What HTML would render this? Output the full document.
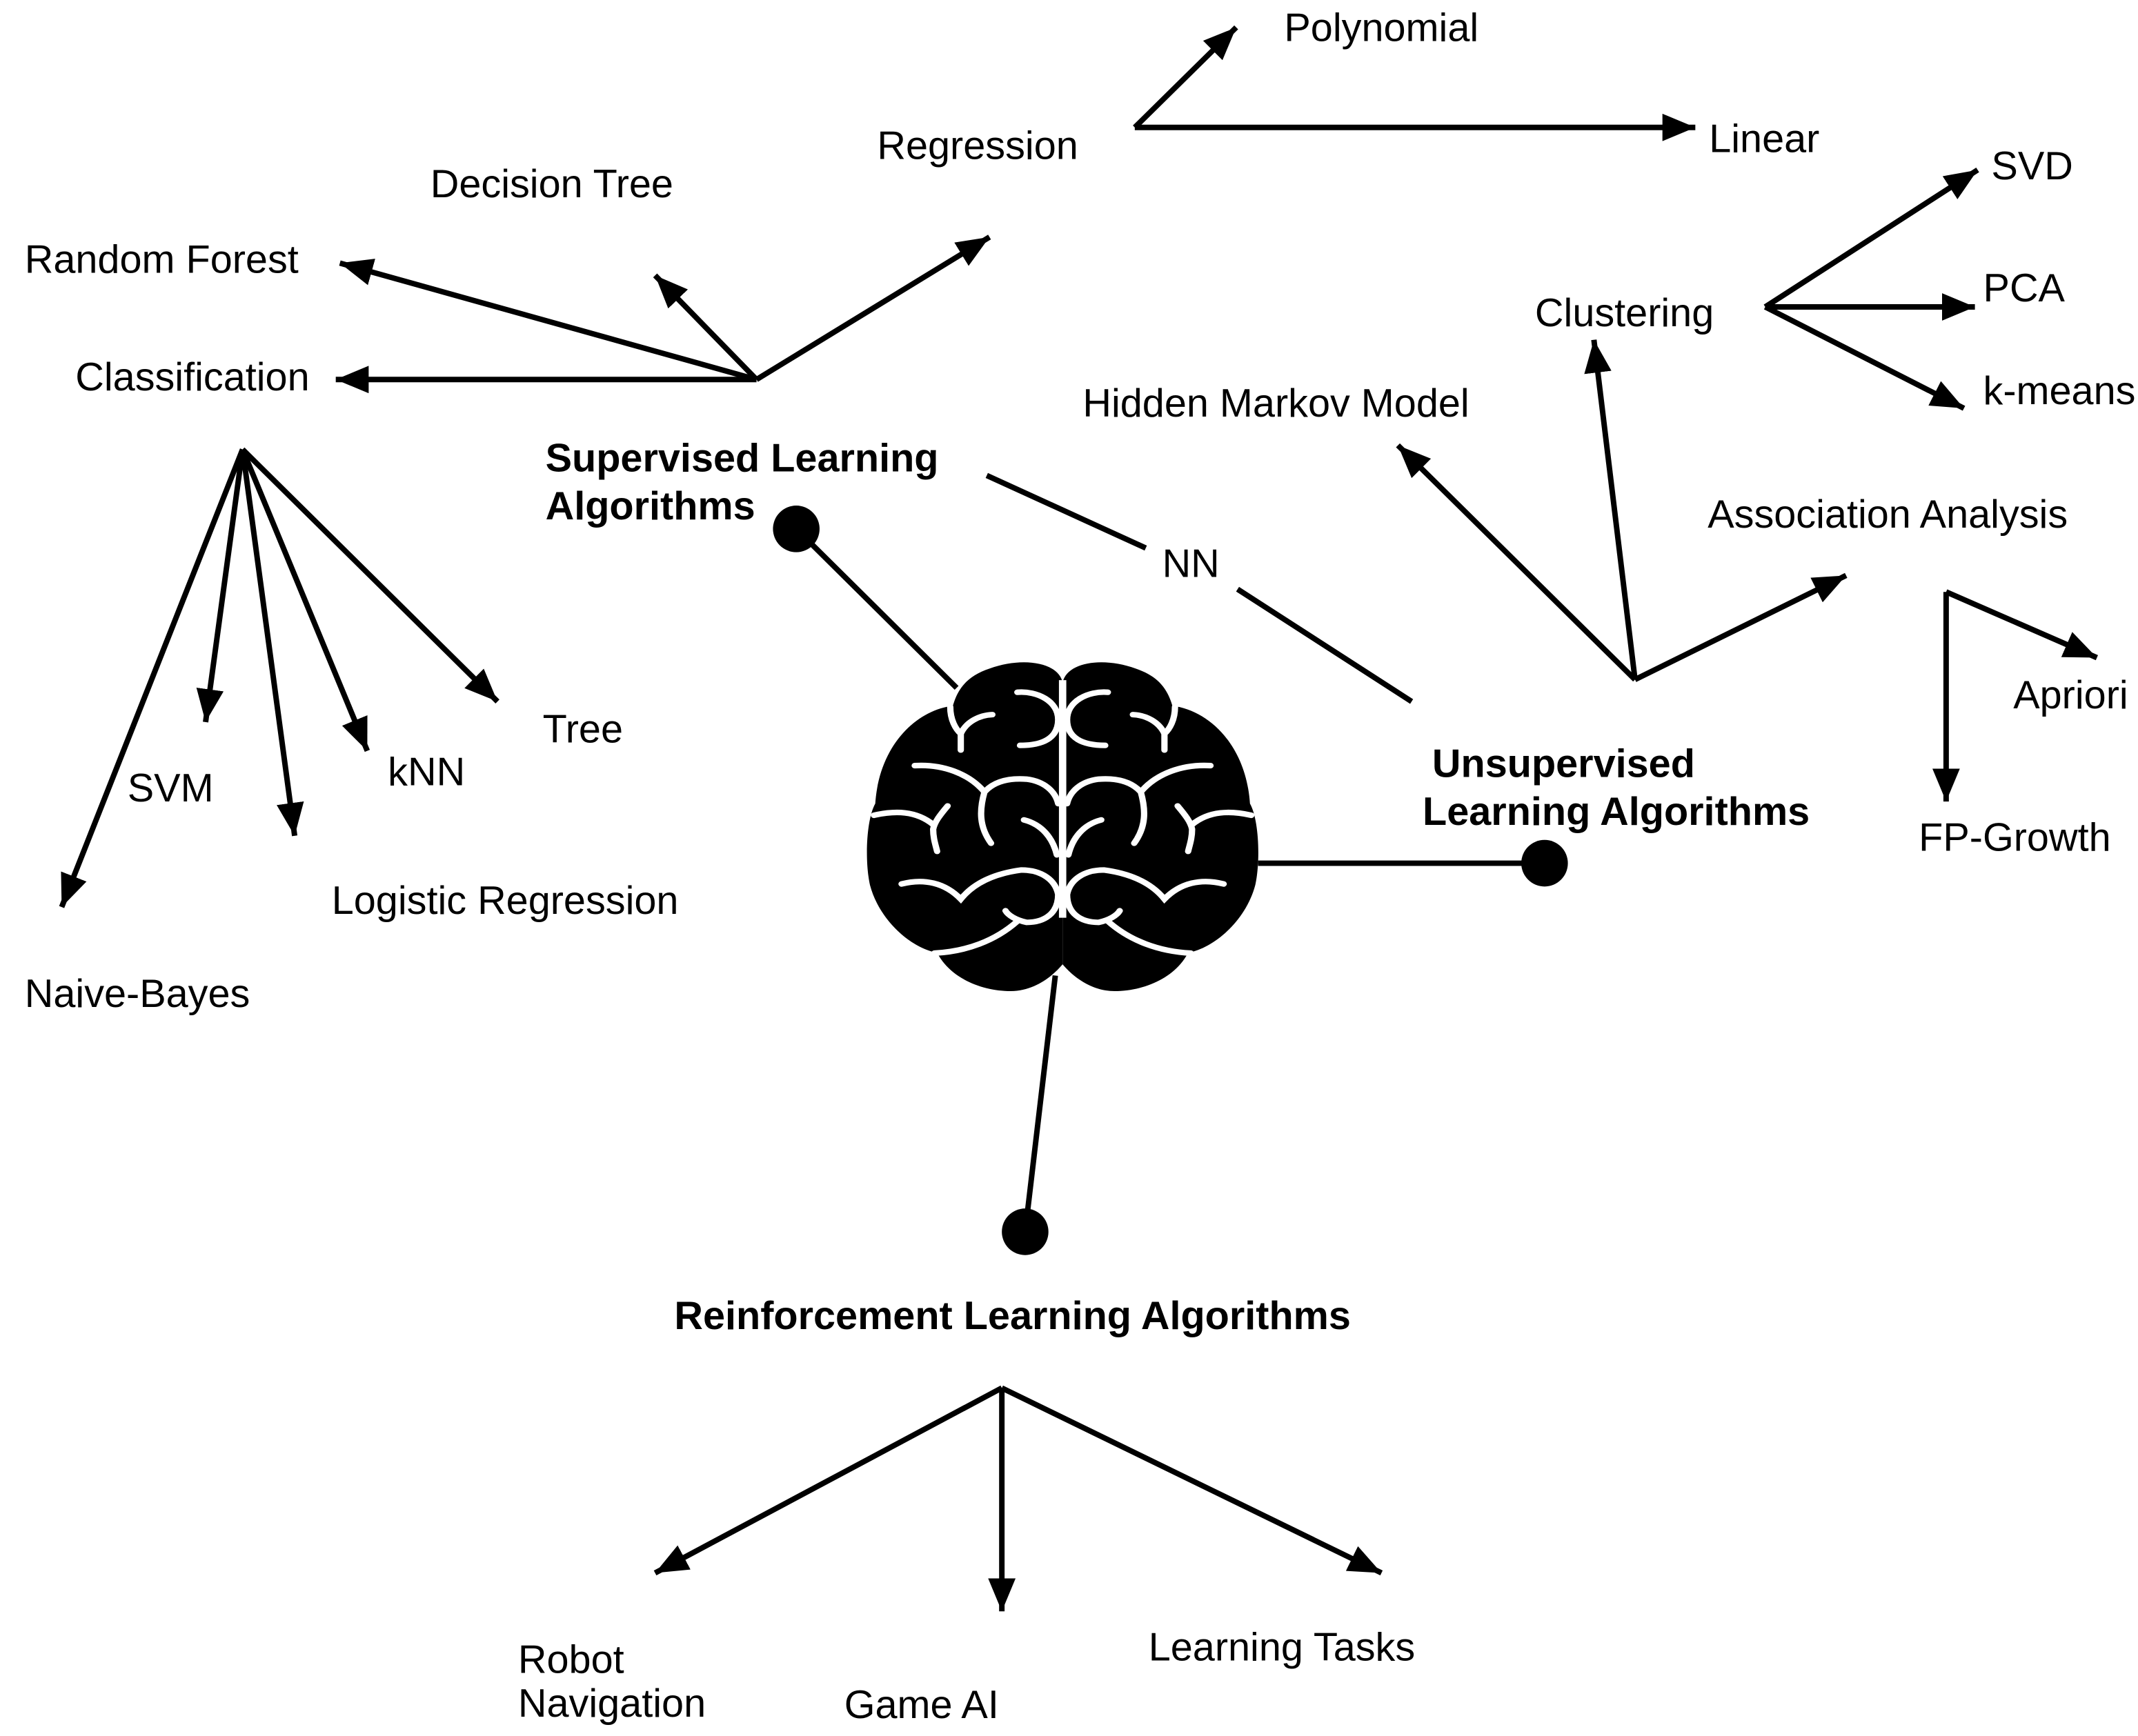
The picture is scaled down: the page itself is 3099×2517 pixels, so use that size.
<!DOCTYPE html>
<html><head><meta charset="utf-8">
<style>
html,body{margin:0;padding:0;background:#fff;}
svg{display:block;}
text{font-family:"Liberation Sans",Arial,sans-serif;font-size:29px;fill:#000;}
.b{font-weight:bold;}
</style></head>
<body>
<svg width="3099" height="2517" viewBox="0 0 1560 1267" preserveAspectRatio="none" xmlns="http://www.w3.org/2000/svg">
<defs>
<marker id="a" markerUnits="userSpaceOnUse" markerWidth="30" markerHeight="24" refX="24" refY="10" orient="auto">
<path d="M0,0 L24,10 L0,20 Z" fill="#000"/>
</marker>
</defs>
<g stroke="#000" stroke-width="4" fill="none">
<line x1="552" y1="277" x2="245" y2="277" marker-end="url(#a)"/>
<line x1="552" y1="277" x2="248" y2="192" marker-end="url(#a)"/>
<line x1="552" y1="277" x2="478" y2="201" marker-end="url(#a)"/>
<line x1="552" y1="277" x2="722" y2="173" marker-end="url(#a)"/>
<line x1="828" y1="93" x2="902" y2="20" marker-end="url(#a)"/>
<line x1="828" y1="93" x2="1237" y2="93" marker-end="url(#a)"/>
<line x1="177" y1="328" x2="45" y2="662" marker-end="url(#a)"/>
<line x1="177" y1="328" x2="150" y2="527" marker-end="url(#a)"/>
<line x1="177" y1="328" x2="215" y2="610" marker-end="url(#a)"/>
<line x1="177" y1="328" x2="268" y2="548" marker-end="url(#a)"/>
<line x1="177" y1="328" x2="363" y2="512" marker-end="url(#a)"/>
<line x1="581" y1="386" x2="698" y2="502"/>
<line x1="720" y1="347" x2="836" y2="400"/>
<line x1="903" y1="430" x2="1030" y2="512"/>
<line x1="918" y1="630" x2="1127" y2="630"/>
<line x1="1193" y1="496" x2="1020" y2="325" marker-end="url(#a)"/>
<line x1="1193" y1="496" x2="1163" y2="248" marker-end="url(#a)"/>
<line x1="1193" y1="496" x2="1347" y2="420" marker-end="url(#a)"/>
<line x1="1288" y1="224" x2="1443" y2="124" marker-end="url(#a)"/>
<line x1="1288" y1="224" x2="1441" y2="224" marker-end="url(#a)"/>
<line x1="1288" y1="224" x2="1433" y2="298" marker-end="url(#a)"/>
<line x1="1420" y1="432" x2="1420" y2="585" marker-end="url(#a)"/>
<line x1="1420" y1="432" x2="1530" y2="480" marker-end="url(#a)"/>
<line x1="770" y1="712" x2="748" y2="899"/>
<line x1="731" y1="1013" x2="478" y2="1148" marker-end="url(#a)"/>
<line x1="731" y1="1013" x2="731" y2="1176" marker-end="url(#a)"/>
<line x1="731" y1="1013" x2="1008" y2="1148" marker-end="url(#a)"/>
</g>
<circle cx="581" cy="386" r="17" fill="#000"/>
<circle cx="1127" cy="630" r="17" fill="#000"/>
<circle cx="748" cy="899" r="17" fill="#000"/>

<g transform="translate(630,476) scale(0.192,0.17)">
<g id="half">
<path d="M757,130 C740,40 600,20 480,70 C400,100 360,150 340,230 C200,250 60,400 45,650 C10,720 5,900 25,1000 C60,1150 180,1270 280,1290 C330,1400 450,1455 560,1455 C650,1455 720,1390 757,1340 Z" fill="#000"/>
<g stroke="#fff" stroke-width="24" fill="none" stroke-linecap="round">
<path d="M330,235 C330,290 350,330 370,350 L370,420 M370,350 C390,300 440,270 490,268"/>
<path d="M585,172 C660,165 740,210 740,290 C740,370 680,400 595,400"/>
<path d="M195,487 C300,480 400,520 460,600 C440,680 440,750 485,820 M460,600 C500,550 560,540 620,545 C690,555 730,600 740,650"/>
<path d="M320,660 C290,700 270,730 265,760 C265,800 275,830 280,855 M265,740 C200,680 120,680 40,700"/>
<path d="M610,720 C680,740 720,800 735,870"/>
<path d="M145,995 C230,970 310,990 370,1060 C420,990 500,950 600,935 C680,935 730,980 740,1040 C740,1120 690,1160 620,1160 C580,1150 550,1130 540,1110 M585,1155 C500,1240 390,1285 270,1292"/>
</g>
</g>
<use href="#half" transform="translate(1514,0) scale(-1,1)"/>
<line x1="757" y1="120" x2="757" y2="1140" stroke="#fff" stroke-width="28"/>
</g>

<text x="937" y="30">Polynomial</text>
<text x="640" y="116">Regression</text>
<text x="1247" y="111">Linear</text>
<text x="314" y="144">Decision Tree</text>
<text x="18" y="199">Random Forest</text>
<text x="55" y="285">Classification</text>
<text x="1453" y="131">SVD</text>
<text x="1447" y="220">PCA</text>
<text x="1447" y="295">k-means</text>
<text x="1120" y="238">Clustering</text>
<text x="790" y="304">Hidden Markov Model</text>
<text class="b" x="398" y="344">Supervised Learning</text>
<text class="b" x="398" y="379">Algorithms</text>
<text x="848" y="421">NN</text>
<text x="1246" y="385">Association Analysis</text>
<text x="396" y="542">Tree</text>
<text x="283" y="573">kNN</text>
<text x="93" y="585">SVM</text>
<text x="1469" y="517">Apriori</text>
<text class="b" x="1045" y="567">Unsupervised</text>
<text class="b" x="1038" y="602">Learning Algorithms</text>
<text x="1400" y="621">FP-Growth</text>
<text x="242" y="667">Logistic Regression</text>
<text x="18" y="735">Naive-Bayes</text>
<text class="b" x="492" y="970">Reinforcement Learning Algorithms</text>
<text x="378" y="1221">Robot</text>
<text x="378" y="1253">Navigation</text>
<text x="616" y="1254">Game AI</text>
<text x="838" y="1212">Learning Tasks</text>
</svg>
</body></html>
